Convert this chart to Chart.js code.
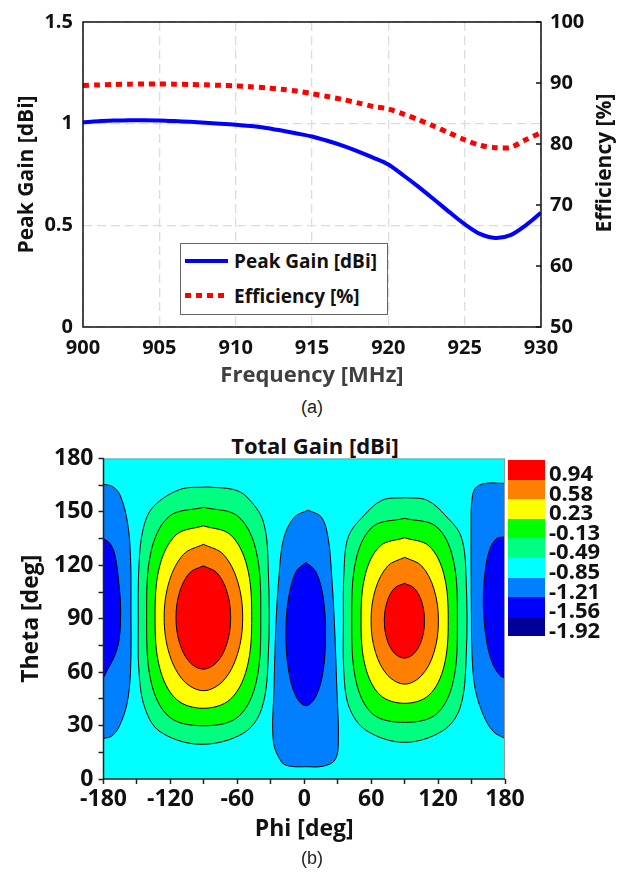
<!DOCTYPE html>
<html>
<head>
<meta charset="utf-8">
<script src="https://cdn.jsdelivr.net/npm/chart.js@4.4.1/dist/chart.umd.min.js"></script>
<style>
  body { margin: 0; background: #fff; width: 624px; height: 880px; position: relative; overflow: hidden; font-family: "Open Sans", sans-serif; }
  #wrapA { position: absolute; left: 0; top: 0; }
  #wrapB { position: absolute; left: 0; top: 430px; }
  .caption { position: absolute; left: 0; width: 624px; text-align: center; font: 18px "Liberation Sans", Arial, sans-serif; color: #222; line-height: 22px; }
  #legendA { position: absolute; left: 180px; top: 243px; width: 208px; height: 72px; border: 1px solid #666; background: #fff; box-sizing: border-box; }
  .entry { position: absolute; left: 4px; height: 24px; width: 200px; }
  .entry .sample { position: absolute; left: 0; width: 43px; }
  .entry span { position: absolute; left: 49px; top: 0; line-height: 24px; font-weight: bold; font-size: 19px; color: #111; white-space: nowrap; }
  #titleR { position: absolute; left: 503px; top: 150px; width: 200px; height: 26px; line-height: 26px; text-align: center; transform: rotate(-90deg); font-weight: bold; font-size: 21px; color: #111; white-space: nowrap; }
  #titleB { position: absolute; left: 165px; width: 300px; top: 430px; text-align: center; font-weight: bold; font-size: 22px; line-height: 30px; color: #111; }
  #colorbar { position: absolute; left: 508px; top: 460px; }
  .cb-row { position: relative; height: 19.6px; }
  .cb-box { position: absolute; left: 0; top: 0; width: 37px; height: 19.6px; }
  .cb-label { position: absolute; left: 41px; top: 3px; line-height: 19.6px; font-weight: bold; font-size: 22px; color: #111; white-space: nowrap; }
</style>
</head>
<body>
<div id="wrapA"><canvas id="chartA" width="624" height="395"></canvas></div>
<div id="legendA">
  <div class="entry" style="top:5px"><div class="sample" style="top:10px;height:4px;background:#0000ff"></div><span>Peak Gain [dBi]</span></div>
  <div class="entry" style="top:40px"><div class="sample" style="top:9px;height:5px;background:repeating-linear-gradient(90deg,#ff0000 0 6.5px,transparent 6.5px 11px)"></div><span>Efficiency [%]</span></div>
</div>
<div id="titleR">Efficiency [%]</div>
<div class="caption" style="top:396px">(a)</div>

<div id="titleB">Total Gain [dBi]</div>
<div id="wrapB"><canvas id="chartB" width="624" height="420"></canvas></div>
<div id="colorbar"></div>
<div class="caption" style="top:847px">(b)</div>

<script>
// ---- (a) peak gain / efficiency vs frequency ----
const freqs = [900, 901, 902, 903, 904, 905, 906, 907, 908, 909, 910, 911, 912, 913, 914, 915,
               916, 917, 918, 919, 920, 921, 922, 923, 924, 925, 926, 927, 928, 929, 930];
const peakGain = [1.007, 1.012, 1.015, 1.017, 1.017, 1.016, 1.013, 1.009, 1.004, 1.000, 0.995,
                  0.988, 0.979, 0.966, 0.952, 0.937, 0.916, 0.892, 0.864, 0.833, 0.799, 0.745,
                  0.688, 0.627, 0.565, 0.506, 0.458, 0.438, 0.452, 0.500, 0.562];
const efficiency = [89.57, 89.68, 89.76, 89.81, 89.84, 89.84, 89.81, 89.76, 89.70, 89.62, 89.52,
                    89.38, 89.20, 88.98, 88.68, 88.25, 87.80, 87.30, 86.75, 86.15, 85.75, 84.90,
                    83.95, 82.90, 81.80, 80.70, 79.80, 79.40, 79.45, 80.70, 81.85];
const gainTicks = [0, 0.5, 1, 1.5];
const effTicks = [50, 60, 70, 80, 90, 100];

// ---- (b) total gain contour (phi, theta) boundaries ----
const levelLabels = ['0.94', '0.58', '0.23', '-0.13', '-0.49', '-0.85', '-1.21', '-1.56', '-1.92'];
const levelColors = ['#ff0000', '#ff8000', '#ffff00', '#00ff00', '#00ff80', '#00ffff', '#0080ff', '#0000ff', '#000099'];

const leftRed = [[-90.5,119.7],[-78.3,115.8],[-69.3,105.2],[-66,90.7],[-69.3,76.2],[-78.3,65.6],[-90.5,61.7],
  [-102.7,65.6],[-111.7,76.2],[-115,90.7],[-111.7,105.2],[-102.7,115.8],[-90.5,119.7]];
const leftOrange = [[-90.4,131.8],[-72.8,126.3],[-59.9,111.3],[-55.2,90.7],[-59.9,70.1],[-72.8,55.1],[-90.4,49.6],
  [-108,55.1],[-120.9,70.1],[-125.6,90.7],[-120.9,111.3],[-108,126.3],[-90.4,131.8]];
const leftYellow = [[-90.5,142.2],[-66.2,137.2],[-51.4,119.7],[-47.1,91],[-51.4,62.3],[-66.2,44.8],[-90.5,39.7],
  [-114.8,44.8],[-129.6,62.3],[-133.8,91],[-129.6,119.7],[-114.8,137.2],[-90.5,142.2]];
const leftGreen = [[-90.2,152.6],[-59.5,147.6],[-43.1,128],[-39,91.2],[-43.1,54.4],[-59.5,34.8],[-90.2,29.9],
  [-120.9,34.8],[-137.3,54.4],[-141.3,91.2],[-137.3,128],[-120.9,147.6],[-90.2,152.6]];
const leftSpring = [[-87,164],[-63.6,162.6],[-51.6,158.5],[-36.7,144.5],[-32.2,116.4],[-32.2,69.6],[-38.1,39.7],
  [-54.6,25.7],[-93.5,19.5],[-129.3,26.6],[-142.8,39.7],[-148.2,60.3],[-148.8,88.3],[-148.2,120.2],
  [-144.3,140.8],[-135.3,152.9],[-111.4,162.6],[-87,164]];

const rightRed = [[89.8,109.9],[98.8,107.1],[105.4,99.4],[107.8,88.9],[105.4,78.4],[98.8,70.7],[89.8,67.9],
  [80.8,70.7],[74.2,78.4],[71.8,88.9],[74.2,99.4],[80.8,107.1],[89.8,109.9]];
const rightOrange = [[90.1,124.5],[105.2,119.7],[116.3,106.7],[120.3,88.9],[116.3,71.1],[105.2,58.1],[90.1,53.3],
  [75,58.1],[63.9,71.1],[59.9,88.9],[63.9,106.7],[75,119.7],[90.1,124.5]];
const rightYellow = [[90,135.5],[111.9,130.9],[125.2,115],[129.1,89],[125.2,63],[111.9,47.1],[90,42.5],
  [68.1,47.1],[54.8,63],[50.9,89],[54.8,115],[68.1,130.9],[90,135.5]];
const rightGreen = [[90,146.4],[118.4,141.8],[133.5,123.5],[137.3,89.1],[133.5,54.7],[118.4,36.4],[90,31.8],
  [61.6,36.4],[46.5,54.7],[42.6,89.1],[46.5,123.5],[61.6,141.8],[90,146.4]];
const rightSpring = [[90,158],[110,156.6],[127,147.7],[140.7,136],[145.1,113],[145.1,67],[139.6,39.8],
  [124.2,27.1],[90,20.6],[56,27.1],[40.6,39.8],[35.6,59],[35.1,89.3],[35.6,116],[39.5,136],
  [53.1,147.7],[70,156.6],[90,158]];

const centerBlue = [[1.5,121.7],[10.5,116.3],[17.1,101.6],[19,81.4],[17.1,61.2],[10.5,46.5],[1.5,41.1],
  [-7.5,46.5],[-14.1,61.2],[-16.5,81.4],[-14.1,101.6],[-7.5,116.3],[1.5,121.7]];
const centerAzure = [[3.5,151],[15.5,147],[21.5,135],[24.5,115],[27,88],[29.2,51],[30.6,21],[27.6,10.7],
  [17,7.2],[2.2,6.9],[-12.7,7.2],[-20.2,9.4],[-27.7,21],[-27.1,51],[-25.3,88],[-22.5,115],
  [-18.5,135],[-9,147],[3.5,151]];
const leftEdgeBlue = [[-180,135.1],[-174.2,132.3],[-169.7,125.8],[-165.8,107.1],[-164.6,95],[-165.8,79],
  [-169.7,69.6],[-175.7,62.2],[-180,56.9]];
const leftEdgeAzure = [[-180,165.5],[-172,164.3],[-165.2,159.5],[-158.6,144.5],[-155.8,125],[-155.4,95],
  [-155.8,60],[-159.2,41.5],[-166.7,28.5],[-173,24],[-180,22.8]];
const rightEdgeBlue = [[180,136],[172.6,135.1],[166.6,129.5],[162.1,116.4],[160.6,97.7],[163.1,79],
  [168.2,65.9],[175,58.5],[180,56.5]];
const rightEdgeAzure = [[180,166],[162,166],[153.2,163.2],[150.2,155.7],[149.6,145],[149.8,100],[150.5,69.6],
  [153.2,50.9],[160.6,35.9],[169.6,26.6],[180,22.8]];

// innermost first: Chart.js paints the last dataset first
const contours = [
  [leftRed, 0], [rightRed, 0],
  [leftOrange, 1], [rightOrange, 1],
  [leftYellow, 2], [rightYellow, 2],
  [leftGreen, 3], [rightGreen, 3],
  [leftSpring, 4], [rightSpring, 4],
  [centerBlue, 7], [leftEdgeBlue, 7], [rightEdgeBlue, 7],
  [centerAzure, 6], [leftEdgeAzure, 6], [rightEdgeAzure, 6]
];

Chart.defaults.font.family = '"Open Sans", sans-serif';
Chart.defaults.font.size = 20;
Chart.defaults.font.weight = 'bold';
Chart.defaults.color = '#111';

const frameA = {
  id: 'frameA',
  afterDatasetsDraw(chart) {
    const {ctx, chartArea: a, scales} = chart;
    ctx.save();
    ctx.strokeStyle = '#111';
    ctx.lineWidth = 1.5;
    ctx.strokeRect(a.left, a.top, a.right - a.left, a.bottom - a.top);
    ctx.beginPath();
    scales.y1.ticks.forEach(t => {
      const y = scales.y1.getPixelForValue(t.value);
      ctx.moveTo(a.right - 5, y);
      ctx.lineTo(a.right, y);
    });
    ctx.stroke();
    ctx.restore();
  }
};

new Chart(document.getElementById('chartA'), {
  type: 'line',
  data: {
    datasets: [{
      label: 'Peak Gain [dBi]',
      data: freqs.map((f, i) => ({x: f, y: peakGain[i]})),
      yAxisID: 'y',
      borderColor: '#0000ff',
      borderWidth: 4,
      pointRadius: 0,
      tension: 0.3
    }, {
      label: 'Efficiency [%]',
      data: freqs.map((f, i) => ({x: f, y: efficiency[i]})),
      yAxisID: 'y1',
      borderColor: '#ff0000',
      borderWidth: 5,
      borderDash: [6, 5],
      borderCapStyle: 'butt',
      pointRadius: 0,
      tension: 0.3
    }]
  },
  options: {
    responsive: false,
    animation: false,
    events: [],
    layout: {padding: {top: 20, left: 0, right: 0, bottom: 0}},
    plugins: {legend: {display: false}, tooltip: {enabled: false}},
    scales: {
      x: {
        type: 'linear', min: 900, max: 930,
        ticks: {stepSize: 5, padding: 9, maxRotation: 0},
        grid: {color: '#dcdcdc', lineWidth: 1.3, drawTicks: false},
        border: {display: false, dash: [9, 5]},
        title: {display: true, text: 'Frequency [MHz]', color: '#404040', font: {size: 22, weight: 'bold'}, padding: {top: 0, bottom: 6}},
        afterFit: s => { s.height = 68; }
      },
      y: {
        position: 'left', min: 0, max: 1.5,
        afterBuildTicks: s => { s.ticks = gainTicks.map(v => ({value: v})); },
        ticks: {padding: 10, callback: v => String(v)},
        grid: {color: '#dcdcdc', lineWidth: 1.3, drawTicks: false},
        border: {display: false, dash: [9, 5]},
        title: {display: true, text: 'Peak Gain [dBi]', font: {size: 21, weight: 'bold'}, padding: {top: 14, bottom: 0}},
        afterFit: s => { s.width = 83; }
      },
      y1: {
        position: 'right', min: 50, max: 100,
        afterBuildTicks: s => { s.ticks = effTicks.map(v => ({value: v})); },
        ticks: {padding: 9},
        grid: {drawOnChartArea: false, drawTicks: false},
        border: {display: false},
        title: {display: false},
        afterFit: s => { s.width = 83; }
      }
    }
  },
  plugins: [frameA]
});

// colour bar
const bar = document.getElementById('colorbar');
levelLabels.forEach((lab, i) => {
  const row = document.createElement('div');
  row.className = 'cb-row';
  row.innerHTML = '<div class="cb-box" style="background:' + levelColors[i] + '"></div><div class="cb-label">' + lab + '</div>';
  bar.appendChild(row);
});

const plotB = {
  id: 'plotB',
  beforeDatasetsDraw(chart) {
    const {ctx, chartArea: a} = chart;
    ctx.save();
    ctx.fillStyle = levelColors[5];
    ctx.fillRect(a.left, a.top, a.right - a.left, a.bottom - a.top);
    ctx.restore();
  },
  afterDatasetsDraw(chart) {
    const {ctx, chartArea: a} = chart;
    ctx.save();
    ctx.strokeStyle = '#999';
    ctx.lineWidth = 1;
    ctx.beginPath();
    ctx.moveTo(a.left, a.top + 0.5); ctx.lineTo(a.right, a.top + 0.5);
    ctx.moveTo(a.right - 0.5, a.top); ctx.lineTo(a.right - 0.5, a.bottom);
    ctx.stroke();
    ctx.strokeStyle = '#222';
    ctx.lineWidth = 1.5;
    ctx.beginPath();
    ctx.moveTo(a.left, a.top); ctx.lineTo(a.left, a.bottom); ctx.lineTo(a.right, a.bottom);
    ctx.stroke();
    ctx.restore();
  }
};

new Chart(document.getElementById('chartB'), {
  type: 'scatter',
  data: {
    datasets: contours.map(([pts, lvl]) => ({
      data: pts.map(p => ({x: p[0], y: p[1]})),
      showLine: true,
      fill: 'shape',
      backgroundColor: levelColors[lvl],
      borderColor: '#000',
      borderWidth: 1,
      pointRadius: 0,
      tension: 0.35,
      clip: 0
    }))
  },
  options: {
    responsive: false,
    animation: false,
    events: [],
    layout: {padding: {top: 28.5, left: 0, right: 119, bottom: 0}},
    plugins: {legend: {display: false}, tooltip: {enabled: false}},
    scales: {
      x: {
        type: 'linear', min: -180, max: 180,
        ticks: {stepSize: 30, autoSkip: false, maxRotation: 0, padding: 2, font: {size: 23, weight: 'bold'}, callback: v => (v % 60 === 0 ? String(v) : '')},
        grid: {drawOnChartArea: false, tickLength: 5, tickColor: '#222', tickWidth: 1.5},
        border: {display: false},
        title: {display: true, text: 'Phi [deg]', font: {size: 23, weight: 'bold'}, padding: {top: 0, bottom: 7}},
        afterFit: s => { s.height = 71; }
      },
      y: {
        type: 'linear', min: 0, max: 180,
        ticks: {stepSize: 15, autoSkip: false, padding: 5, font: {size: 23, weight: 'bold'}, callback: v => (v % 30 === 0 ? String(v) : '')},
        grid: {drawOnChartArea: false, tickLength: 5, tickColor: '#222', tickWidth: 1.5},
        border: {display: false},
        title: {display: true, text: 'Theta [deg]', font: {size: 23, weight: 'bold'}, padding: {top: 18, bottom: 0}},
        afterFit: s => { s.width = 103.5; }
      }
    }
  },
  plugins: [plotB]
});
</script>
</body>
</html>
